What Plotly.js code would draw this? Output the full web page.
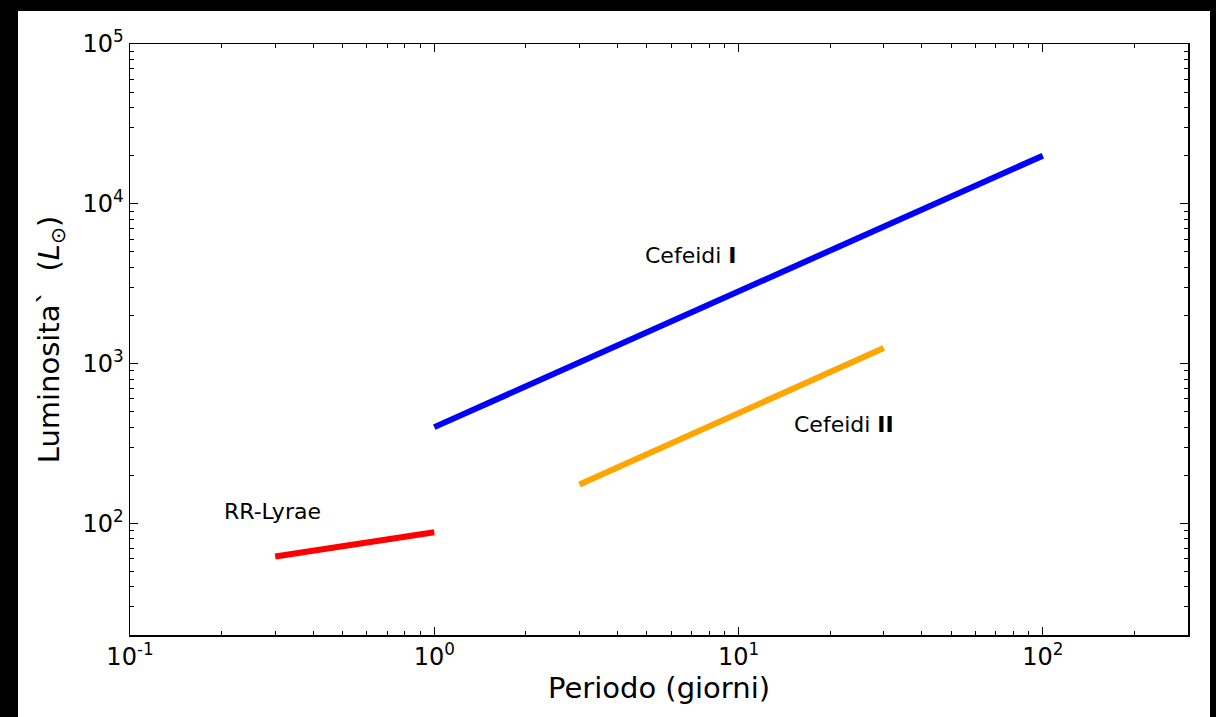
<!DOCTYPE html>
<html>
<head>
<meta charset="utf-8">
<script src="https://cdn.plot.ly/plotly-3.0.1.min.js"></script>
<style>
  html, body { margin: 0; padding: 0; background: #000; width: 1216px; height: 717px; overflow: hidden; }
  #chart { position: absolute; left: 18px; top: 11px; width: 1192px; height: 706px; background: #fff; }
</style>
</head>
<body>
<div id="chart"></div>
<script>
// Period–luminosity relations of pulsating variable stars
const periodRR = [0.3, 1];
const lumRR = [62, 88];

const periodCefI = [1, 100];
const lumCefI = [400, 20000];

const periodCefII = [3, 30];
const lumCefII = [175, 1250];

const xTickVals = [0.1, 1, 10, 100];
const xTickText = ["10<sup>-1</sup>", "10<sup>0</sup>", "10<sup>1</sup>", "10<sup>2</sup>"];
const yTickVals = [100, 1000, 10000, 100000];
const yTickText = ["10<sup>2</sup>", "10<sup>3</sup>", "10<sup>4</sup>", "10<sup>5</sup>"];

const labels = ["Cefeidi <b>I</b>", "Cefeidi <b>II</b>", "RR-Lyrae"];
const labelX = [4.85, 15, 0.2];
const labelY = [4200, 370, 105];

const font = "DejaVu Sans, sans-serif";

const traces = [
  { x: periodCefI, y: lumCefI, mode: "lines", line: { color: "#0000ff", width: 6 }, hoverinfo: "skip" },
  { x: periodCefII, y: lumCefII, mode: "lines", line: { color: "#ffa500", width: 6 }, hoverinfo: "skip" },
  { x: periodRR, y: lumRR, mode: "lines", line: { color: "#ff0000", width: 6 }, hoverinfo: "skip" }
];

const annotations = labels.map((t, i) => ({
  text: t,
  x: Math.log10(labelX[i]),
  y: Math.log10(labelY[i]),
  xref: "x", yref: "y",
  xanchor: "left", yanchor: "bottom",
  yshift: -6,
  showarrow: false,
  font: { family: font, size: 22, color: "#000" }
}));

const axisCommon = {
  type: "log",
  showgrid: false,
  zeroline: false,
  showline: true,
  linecolor: "#000",
  linewidth: 1.5,
  mirror: "allticks",
  ticks: "inside",
  ticklen: 8,
  tickwidth: 1,
  tickcolor: "#000",
  tickmode: "array",
  tickfont: { family: font, size: 24, color: "#000" },
  minor: { ticks: "inside", ticklen: 4, tickwidth: 1, tickcolor: "#000", dtick: "D1", showgrid: false }
};

const layout = {
  width: 1192,
  height: 706,
  margin: { l: 112, r: 22, t: 33, b: 82 },
  paper_bgcolor: "#fff",
  plot_bgcolor: "#fff",
  showlegend: false,
  xaxis: Object.assign({}, axisCommon, {
    range: [-1, Math.log10(300)],
    tickvals: xTickVals,
    ticktext: xTickText,
    title: { text: "Periodo (giorni)", font: { family: font, size: 29, color: "#000" }, standoff: 3 }
  }),
  yaxis: Object.assign({}, axisCommon, {
    range: [Math.log10(20), 5],
    tickvals: yTickVals,
    ticktext: yTickText,
    title: { text: "Luminosita`  (<i>L</i><sub>⊙</sub>)", font: { family: font, size: 29, color: "#000" }, standoff: 14 }
  }),
  annotations: annotations
};

Plotly.newPlot("chart", traces, layout, { staticPlot: true, displayModeBar: false });
</script>
</body>
</html>
